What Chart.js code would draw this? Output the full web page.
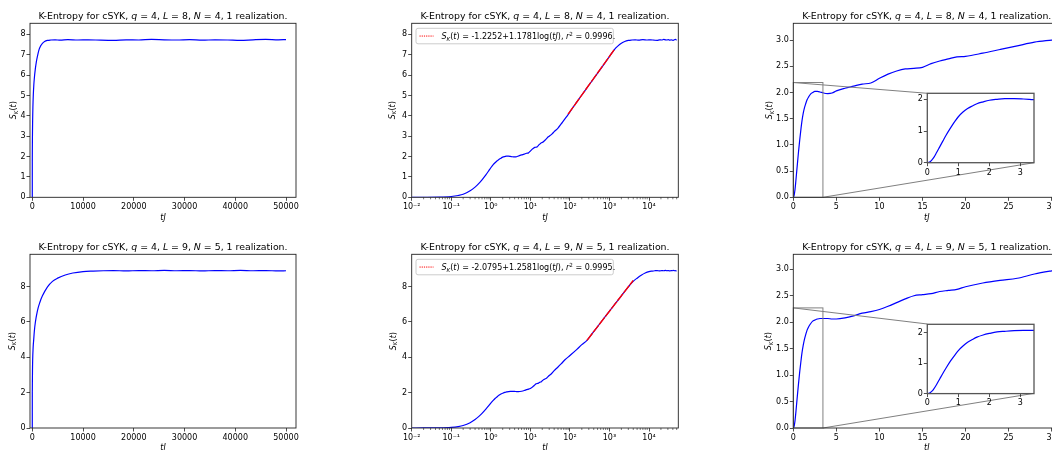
<!DOCTYPE html>
<html><head><meta charset="utf-8">
<script src="https://cdn.jsdelivr.net/npm/chart.js@4/dist/chart.umd.min.js"></script>
<style>
html,body{margin:0;padding:0;background:#fff;overflow:hidden;width:1052px;height:450px;position:relative;}
canvas{position:absolute;}
</style></head><body>
<script>
// ---------------- DATA ----------------
const tL8 = [0,0.01,0.02,0.05,0.1,0.15,0.2,0.3,0.4,0.5,0.6,0.75,0.9,1.0,1.15,1.3,1.45,1.6,1.8,2.0,2.25,2.5,2.8,3.1,3.5,4.0,4.5,5,6,7,8,9,10,11,12,13,14,15,16,17,18,19,20,22,24,26,28,30,35,40,50,60,70,90,120,150,200,300,400,600,800,1000,1330,1620,2000,2430,3000,3650,4500,5500,7000,9000,11000,13500,16000,18500,21000,23500,26000,28500,31000,33500,36000,38500,41000,43500,46000,48500,50000];
const sL8 = [0,0.0004,0.0015,0.009,0.04,0.09,0.15,0.32,0.5,0.68,0.86,1.1,1.32,1.45,1.6,1.71,1.79,1.86,1.92,1.97,2.0,2.02,2.02,2.01,1.99,1.98,1.99,2.03,2.08,2.12,2.16,2.18,2.27,2.35,2.41,2.45,2.46,2.48,2.55,2.6,2.64,2.68,2.69,2.75,2.82,2.89,2.96,3.0,3.1,3.22,3.4,3.6,3.78,4.06,4.42,4.68,5.02,5.5,5.83,6.3,6.65,6.91,7.25,7.42,7.56,7.65,7.70,7.72,7.73,7.71,7.74,7.72,7.73,7.71,7.70,7.73,7.72,7.75,7.73,7.72,7.74,7.71,7.73,7.72,7.70,7.73,7.75,7.73,7.74];
const fitTL8 = [90,1330];
const fitSL8 = [4.08,7.25];

const tL9 = [0,0.01,0.02,0.05,0.1,0.15,0.2,0.3,0.4,0.5,0.6,0.75,0.9,1.0,1.15,1.3,1.45,1.6,1.8,2.0,2.25,2.5,2.8,3.1,3.5,4,4.5,5,6,7,8,9,10,11,12,13,14,15,16,17,18,19,20,22,24,26,28,30,35,40,50,60,75,100,150,200,270,400,600,1000,1500,2000,3000,3980,5000,6500,8000,10000,12000,14000,16000,18500,21000,23500,26000,28500,31000,33500,36000,38500,41000,43500,46000,48500,50000];
const sL9 = [0,0.0004,0.0015,0.008,0.035,0.08,0.14,0.3,0.48,0.66,0.83,1.07,1.28,1.41,1.56,1.68,1.77,1.85,1.92,1.97,2.02,2.04,2.06,2.07,2.07,2.07,2.06,2.06,2.08,2.12,2.17,2.2,2.24,2.3,2.37,2.44,2.5,2.52,2.54,2.58,2.6,2.62,2.67,2.74,2.79,2.83,2.91,2.97,3.1,3.25,3.45,3.63,3.86,4.1,4.45,4.72,4.96,5.46,5.97,6.62,7.12,7.48,7.99,8.3,8.48,8.66,8.77,8.85,8.88,8.9,8.91,8.89,8.91,8.9,8.92,8.9,8.91,8.89,8.91,8.9,8.92,8.9,8.91,8.89,8.9];
const fitTL9 = [270,3980];
const fitSL9 = [4.96,8.35];

// tick values and labels
const linXTicks = [0,10000,20000,30000,40000,50000];
const linXLabels = ['0','10000','20000','30000','40000','50000'];
const logXTicks = [1e-2,1e-1,1e0,1e1,1e2,1e3,1e4];
const logXLabels = ['10\u207B\u00B2','10\u207B\u00B9','10\u2070','10\u00B9','10\u00B2','10\u00B3','10\u2074'];
const zoomXTicks = [0,5,10,15,20,25,30];
const zoomXLabels = ['0','5','10','15','20','25','30'];
const yTicksL8 = [0,1,2,3,4,5,6,7,8];
const yLabelsL8 = ['0','1','2','3','4','5','6','7','8'];
const yTicksL9 = [0,2,4,6,8];
const yLabelsL9 = ['0','2','4','6','8'];
const zoomYTicks = [0,0.5,1,1.5,2,2.5,3];
const zoomYLabels = ['0.0','0.5','1.0','1.5','2.0','2.5','3.0'];
const insetXTicks = [0,1,2,3];
const insetXLabels = ['0','1','2','3'];
const insetYTicks = [0,1,2];
const insetYLabels = ['0','1','2'];

// axis limits
const linXLim = [-450, 51970];
const logXLim = [0.01, 55000];
const zoomXLim = [0, 31];
const yMaxL8 = 8.54, yMaxL9 = 9.83;
const zoomYMaxL8 = 3.32, zoomYMaxL9 = 3.283;
const insetXMax = 3.44;
const insetYMaxL8 = 2.19, insetYMaxL9 = 2.27;

// texts
const titleL8 = [['K-Entropy for cSYK, '],['q',1],[' = 4, '],['L',1],[' = 8, '],['N',1],[' = 4, 1 realization.']];
const titleL9 = [['K-Entropy for cSYK, '],['q',1],[' = 4, '],['L',1],[' = 9, '],['N',1],[' = 5, 1 realization.']];
const yLabelText = [['S',1],['K',1,'sub'],['('],['t',1],[')']];
const xLabelText = [['tJ',1]];
const legendL8 = [['S',1],['K',1,'sub'],['('],['t',1],[') = -1.2252+1.1781log('],['tJ',1],['), '],['r',1],['2',0,'sup'],[' = 0.9996.']];
const legendL9 = [['S',1],['K',1,'sub'],['('],['t',1],[') = -2.0795+1.2581log('],['tJ',1],['), '],['r',1],['2',0,'sup'],[' = 0.9995.']];

// ---------------- HELPERS ----------------
const FONT = '"DejaVu Sans", sans-serif';
function segFont(seg, size){
  const sz = seg[2] ? size*0.7 : size;
  return (seg[1] ? 'italic ' : '') + sz + 'px ' + FONT;
}
function richWidth(ctx, segs, size){
  let w = 0;
  for (const s of segs){ ctx.font = segFont(s,size); w += ctx.measureText(s[0]).width; }
  return w;
}
function drawRich(ctx, segs, x, y, size, align){
  ctx.save();
  ctx.textBaseline = 'alphabetic';
  ctx.textAlign = 'left';
  ctx.fillStyle = '#000';
  let cx = align === 'center' ? x - richWidth(ctx, segs, size)/2 : x;
  for (const s of segs){
    ctx.font = segFont(s,size);
    let dy = 0;
    if (s[2] === 'sub') dy = size*0.22;
    if (s[2] === 'sup') dy = -size*0.4;
    ctx.fillText(s[0], cx, y + dy);
    cx += ctx.measureText(s[0]).width;
  }
  ctx.restore();
}
function pts(ts, ss, positiveOnly){
  const out = [];
  for (let i=0;i<ts.length;i++){ if (!positiveOnly || ts[i] > 0) out.push({x:ts[i], y:ss[i]}); }
  return out;
}

function axis(kind, lim, ticks, labels, isX, fitSize){
  return {
    type: kind, min: lim[0], max: lim[1], position: isX ? 'bottom' : 'left',
    grid: {display:true, drawOnChartArea:false, drawTicks:true, tickLength:3.5, tickColor:'#222', tickWidth:0.8},
    border: {display:false},
    ticks: {autoSkip:false, maxRotation:0, minRotation:0, padding: isX ? 1.5 : 1, color:'#000',
            font:{family:FONT, size:8}, callback:(v,i)=>labels[i]},
    afterBuildTicks: s => { s.ticks = ticks.map(v => ({value:v})); },
    afterFit: s => { if (isX) s.height = fitSize; else s.width = fitSize; }
  };
}

function makeChart(spec){
  const [cl, ct, cw, chh] = spec.canvas;
  const [pl, pt, pr, pb] = spec.plot;
  const cv = document.createElement('canvas');
  cv.width = cw; cv.height = chh;
  cv.style.left = cl + 'px'; cv.style.top = ct + 'px';
  cv.style.width = cw + 'px'; cv.style.height = chh + 'px';
  document.body.appendChild(cv);

  const deco = {
    id: 'deco',
    beforeDatasetsDraw(chart){
      const a = chart.chartArea, c = chart.ctx;
      c.save(); c.fillStyle = '#fff'; c.fillRect(a.left, a.top, a.right-a.left, a.bottom-a.top); c.restore();
    },
    afterDatasetsDraw(chart){
      const c = chart.ctx;
      if (spec.zoomBox){
        const xs = chart.scales.x, ys = chart.scales.y;
        const x0 = xs.getPixelForValue(0), x1 = xs.getPixelForValue(spec.zoomBox[0]);
        const y0 = ys.getPixelForValue(0), y1 = ys.getPixelForValue(spec.zoomBox[1]);
        const ins = spec.insetPlot;
        const il = ins[0]-cl, it = ins[1]-ct, ir = ins[2]-cl, ib = ins[3]-ct;
        c.save(); c.strokeStyle = '#808080'; c.lineWidth = 1;
        c.strokeRect(x0, y1, x1-x0, y0-y1);
        c.beginPath(); c.moveTo(x0, y1); c.lineTo(il, it); c.stroke();
        c.beginPath(); c.moveTo(x1, y0); c.lineTo(ir, ib); c.stroke();
        c.restore();
      }
    },
    afterDraw(chart){
      const a = chart.chartArea, c = chart.ctx;
      c.save();
      c.strokeStyle = spec.inset ? '#555' : '#222';
      c.lineWidth = spec.inset ? 1.3 : 0.9;
      c.strokeRect(a.left, a.top, a.right-a.left, a.bottom-a.top);
      if (spec.logX){
        const xs = chart.scales.x;
        c.strokeStyle = '#222'; c.lineWidth = 0.6;
        for (let k=-2;k<=4;k++){
          for (let j=2;j<=9;j++){
            const v = j*Math.pow(10,k);
            if (v < xs.min || v > xs.max) continue;
            const px = xs.getPixelForValue(v);
            c.beginPath(); c.moveTo(px, a.bottom); c.lineTo(px, a.bottom+2); c.stroke();
          }
        }
      }
      c.restore();
      if (spec.title){
        drawRich(c, spec.title, (a.left+a.right)/2, a.top-4.3, 9.4, 'center');
      }
      if (spec.xlabel){
        drawRich(c, spec.xlabel, (a.left+a.right)/2, a.bottom+22.3, 8, 'center');
      }
      if (spec.ylabel){
        c.save();
        c.translate(a.left - spec.ylabOff + 3, (a.top+a.bottom)/2);
        c.rotate(-Math.PI/2);
        drawRich(c, spec.ylabel, 0, 0, 8, 'center');
        c.restore();
      }
      if (spec.legend){
        const bx = a.left + 4.3, by = a.top + 5, bw = 197.3, bh = 15.5;
        c.save();
        c.fillStyle = 'rgba(255,255,255,0.8)'; c.strokeStyle = '#cccccc'; c.lineWidth = 1;
        const r = 2;
        c.beginPath();
        c.moveTo(bx+r,by); c.lineTo(bx+bw-r,by); c.quadraticCurveTo(bx+bw,by,bx+bw,by+r);
        c.lineTo(bx+bw,by+bh-r); c.quadraticCurveTo(bx+bw,by+bh,bx+bw-r,by+bh);
        c.lineTo(bx+r,by+bh); c.quadraticCurveTo(bx,by+bh,bx,by+bh-r);
        c.lineTo(bx,by+r); c.quadraticCurveTo(bx,by,bx+r,by); c.closePath();
        c.fill(); c.stroke();
        c.strokeStyle = '#ff0000'; c.lineWidth = 1; c.setLineDash([1.2,1]);
        c.beginPath(); c.moveTo(bx+3.5, by+bh/2); c.lineTo(bx+17.5, by+bh/2); c.stroke();
        c.restore();
        drawRich(c, spec.legend, bx+25.5, by+bh/2+2.9, 8, 'left');
      }
    }
  };

  const datasets = [{
    data: pts(spec.t, spec.s, spec.logX), order: 2,
    borderColor:'#0000ff', borderWidth:1.2, pointRadius:0, showLine:true, fill:false,
    cubicInterpolationMode:'monotone'
  }];
  if (spec.fitT){
    datasets.push({
      data: pts(spec.fitT, spec.fitS, true), order: 1,
      borderColor:'#ff0000', borderWidth:1.4, borderDash:[9,1], pointRadius:0, showLine:true, fill:false, tension:0
    });
  }
  new Chart(cv.getContext('2d'), {
    type:'scatter',
    data:{datasets},
    options:{
      animation:false, responsive:false, devicePixelRatio:1, events:[],
      layout:{padding:{left:0, top:pt-ct, right:(cl+cw)-pr, bottom:0}},
      plugins:{legend:{display:false}, tooltip:{enabled:false}, title:{display:false}},
      scales:{
        x: axis(spec.logX ? 'logarithmic' : 'linear', spec.xlim, spec.xticks, spec.xlabels, true, (ct+chh)-pb),
        y: axis('linear', spec.ylim, spec.yticks, spec.ylabels, false, pl-cl)
      }
    },
    plugins:[deco]
  });
}

// ---------------- LAYOUT ----------------
const rows = [
  {ct:0, pt:23.3, pb:197.3, t:tL8, s:sL8, fitT:fitTL8, fitS:fitSL8, ymax:yMaxL8, yt:yTicksL8, yl:yLabelsL8, zmax:zoomYMaxL8, imax:insetYMaxL8, title:titleL8, legend:legendL8, inset:[927.3,93.3,1034,162.7], off:[16.7,20,24]},
  {ct:225, pt:254.3, pb:428, t:tL9, s:sL9, fitT:fitTL9, fitS:fitSL9, ymax:yMaxL9, yt:yTicksL9, yl:yLabelsL9, zmax:zoomYMaxL9, imax:insetYMaxL9, title:titleL9, legend:legendL9, inset:[927.3,324,1034,393.3], off:[18.3,19,25]}
];
for (const r of rows){
  makeChart({canvas:[0,r.ct,370,225], plot:[30,r.pt,296,r.pb], t:r.t, s:r.s,
    xlim:linXLim, xticks:linXTicks, xlabels:linXLabels, ylim:[0,r.ymax], yticks:r.yt, ylabels:r.yl,
    title:r.title, xlabel:xLabelText, ylabel:yLabelText, ylabOff:r.off[0]});
  makeChart({canvas:[370,r.ct,370,225], plot:[411.7,r.pt,678.3,r.pb], t:r.t, s:r.s, fitT:r.fitT, fitS:r.fitS, logX:true,
    xlim:logXLim, xticks:logXTicks, xlabels:logXLabels, ylim:[0,r.ymax], yticks:r.yt, ylabels:r.yl,
    title:r.title, xlabel:xLabelText, ylabel:yLabelText, ylabOff:r.off[1], legend:r.legend});
  makeChart({canvas:[740,r.ct,340,225], plot:[793.3,r.pt,1060.3,r.pb], t:r.t, s:r.s,
    xlim:zoomXLim, xticks:zoomXTicks, xlabels:zoomXLabels, ylim:[0,r.zmax], yticks:zoomYTicks, ylabels:zoomYLabels,
    title:r.title, xlabel:xLabelText, ylabel:yLabelText, ylabOff:r.off[2], zoomBox:[insetXMax, r.imax], insetPlot:r.inset});
  makeChart({canvas:[900,r.inset[1]-13.3,152,100], plot:r.inset, t:r.t, s:r.s, inset:true,
    xlim:[0,insetXMax], xticks:insetXTicks, xlabels:insetXLabels, ylim:[0,r.imax], yticks:insetYTicks, ylabels:insetYLabels});
}
</script>
</body></html>
